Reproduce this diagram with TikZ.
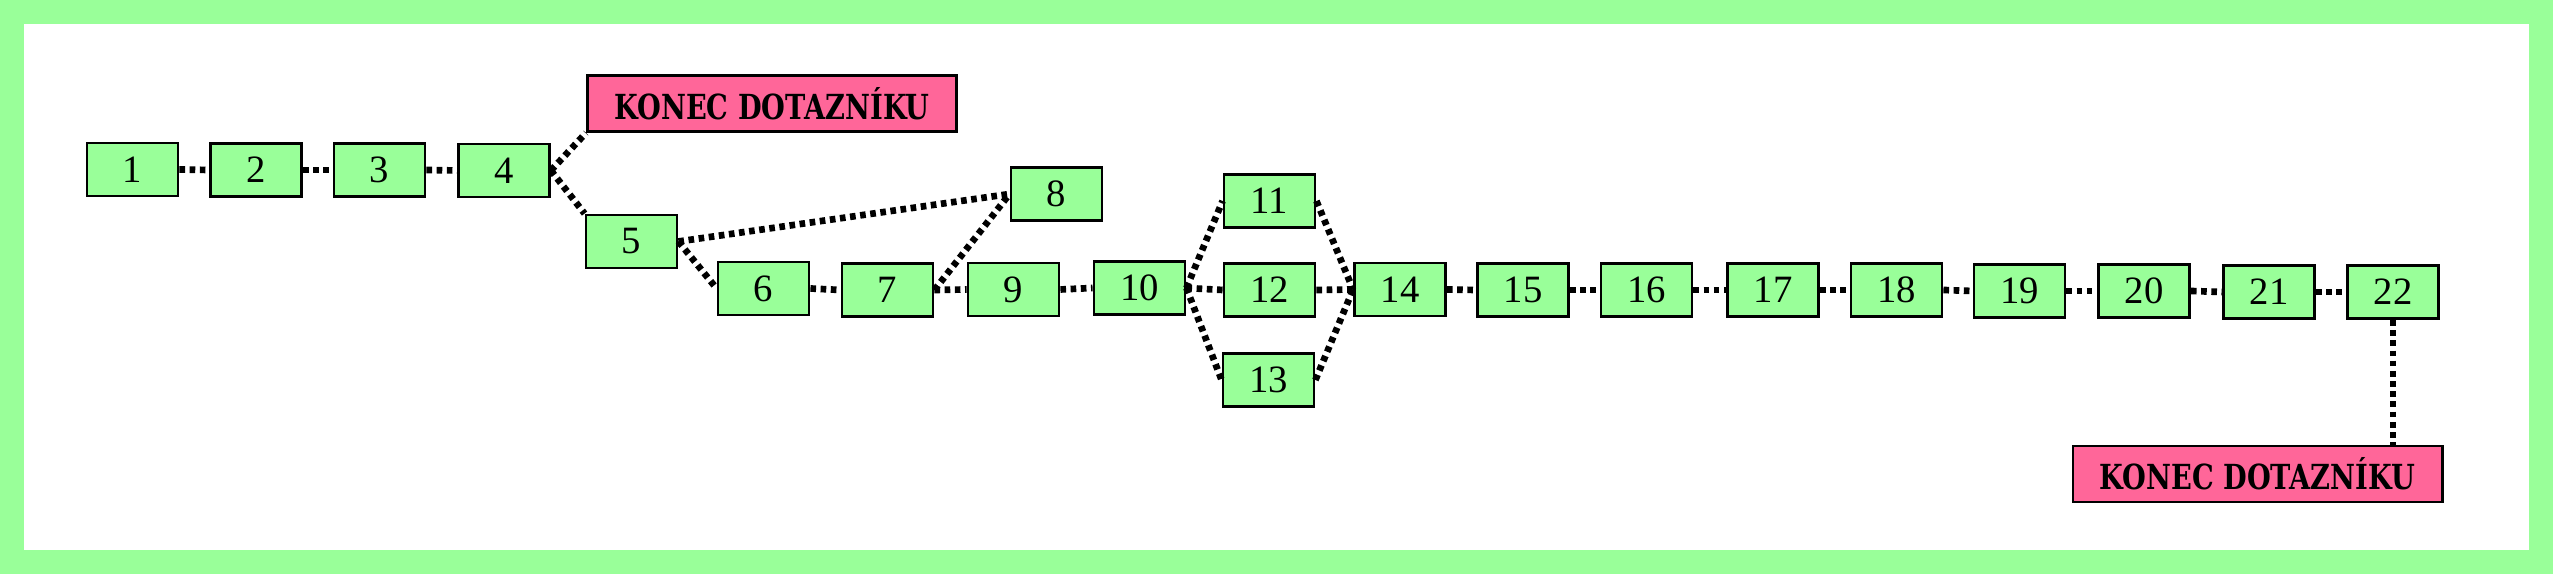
\documentclass[tikz,border=0pt]{standalone}
\usepackage{fontspec}
\usepackage{graphicx}
\setmainfont{Liberation Serif}
\newfontfamily\konecfont{DejaVu Serif}
\definecolor{boxgreen}{HTML}{99FF99}
\definecolor{boxpink}{HTML}{FF6699}
\tikzset{
  qbox/.style={draw=black, line width=0.8pt, fill=boxgreen, minimum width=0.91cm, minimum height=0.53cm, inner sep=0pt, font=\fontsize{11}{13}\selectfont},
  endbox/.style={draw=black, line width=0.8pt, fill=boxpink, minimum width=3.69cm, minimum height=0.56cm, inner sep=0pt},
  link/.style={line width=1.9pt, dash pattern=on 1.6pt off 1.3pt}
}
\newcommand{\konectext}{\resizebox{3.15cm}{0.32cm}{\konecfont\bfseries KONEC DOTAZNÍKU}}
\begin{document}
\begin{tikzpicture}[x=0.01cm, y=-0.01cm]
\useasboundingbox (0,0) rectangle (2553,574);
\fill[boxgreen] (0,0) rectangle (2553,574);
\fill[white] (24,24) rectangle (2529,550);

\node[qbox] (n1) at (132.5,169.5) {1};
\node[qbox] (n2) at (256,170) {2};
\node[qbox] (n3) at (379.5,170) {3};
\node[qbox] (n4) at (504,170.5) {4};
\node[endbox] (k1) at (772,103.5) {\konectext};
\node[qbox] (n5) at (631.5,241.5) {5};
\node[qbox] (n6) at (763.5,288.5) {6};
\node[qbox] (n7) at (887.5,290) {7};
\node[qbox] (n8) at (1056.5,194) {8};
\node[qbox] (n9) at (1013.5,289.5) {9};
\node[qbox] (n10) at (1139.5,288) {10};
\node[qbox] (n11) at (1269.5,201) {11};
\node[qbox] (n12) at (1269.5,290) {12};
\node[qbox] (n13) at (1268.5,380) {13};
\node[qbox] (n14) at (1400,289.5) {14};
\node[qbox] (n15) at (1523,290) {15};
\node[qbox] (n16) at (1646.5,290) {16};
\node[qbox] (n17) at (1773,290) {17};
\node[qbox] (n18) at (1896.5,290) {18};
\node[qbox] (n19) at (2019.5,291) {19};
\node[qbox] (n20) at (2144,291) {20};
\node[qbox] (n21) at (2269,292) {21};
\node[qbox] (n22) at (2393,292) {22};
\node[endbox] (k2) at (2257.5,474) {\konectext};

\draw[link] (n1.east) -- (n2.west);
\draw[link] (n2.east) -- (n3.west);
\draw[link] (n3.east) -- (n4.west);
\draw[link] (n4.east) -- (k1.south west);
\draw[link] (n4.east) -- (n5.north west);
\draw[link] (n5.east) -- (n8.west);
\draw[link] (n5.east) -- (n6.west);
\draw[link] (n6.east) -- (n7.west);
\draw[link] (n7.east) -- (n8.west);
\draw[link] (n7.east) -- (n9.west);
\draw[link] (n9.east) -- (n10.west);
\draw[link] (n10.east) -- (n11.west);
\draw[link] (n10.east) -- (n12.west);
\draw[link] (n10.east) -- (n13.west);
\draw[link] (n11.east) -- (n14.west);
\draw[link] (n12.east) -- (n14.west);
\draw[link] (n13.east) -- (n14.west);
\draw[link] (n14.east) -- (n15.west);
\draw[link] (n15.east) -- (n16.west);
\draw[link] (n16.east) -- (n17.west);
\draw[link] (n17.east) -- (n18.west);
\draw[link] (n18.east) -- (n19.west);
\draw[link] (n19.east) -- (n20.west);
\draw[link] (n20.east) -- (n21.west);
\draw[link] (n21.east) -- (n22.west);
\draw[link] (n22.south) -- (n22.south |- k2.north);
\end{tikzpicture}
\end{document}
